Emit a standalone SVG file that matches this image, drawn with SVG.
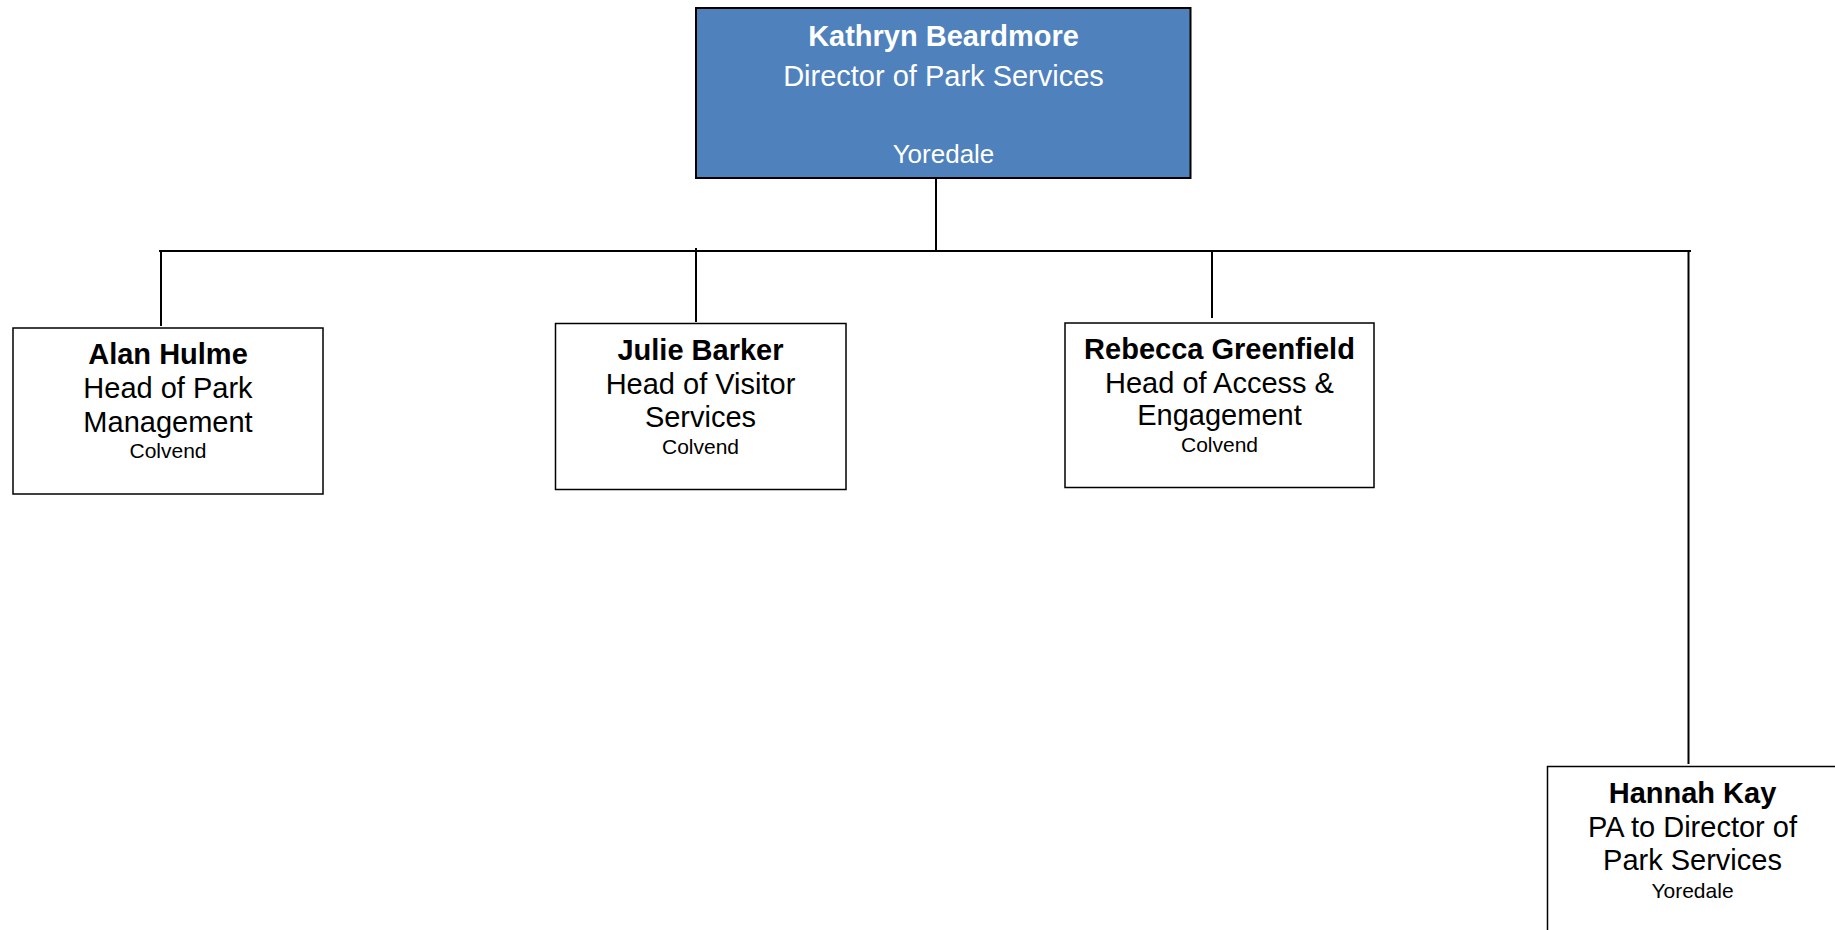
<svg xmlns="http://www.w3.org/2000/svg" width="1835" height="930" viewBox="0 0 1835 930">
<style>
.box{fill:#ffffff;stroke:#000;stroke-width:1.5}
.top{fill:#4F81BD;stroke:#000;stroke-width:2}
.ln{stroke:#000;stroke-width:2;fill:none}
text{font-family:"Liberation Sans",Arial,sans-serif;text-anchor:middle;fill:#000}
.nm{font-size:29px;font-weight:bold}
.tt{font-size:29px}
.lc{font-size:21px}
.w{fill:#fff}
</style>
<rect width="1835" height="930" fill="#fff"/>
<g id="connectors">
<line class="ln" x1="936" y1="178" x2="936" y2="251"/>
<line class="ln" x1="159" y1="251" x2="1691" y2="251"/>
<line class="ln" x1="161" y1="251" x2="161" y2="326"/>
<line class="ln" x1="696" y1="248" x2="696" y2="322"/>
<line class="ln" x1="1212" y1="251" x2="1212" y2="318"/>
<line class="ln" x1="1688.5" y1="251" x2="1688.5" y2="764"/>
</g>
<g id="kathryn">
<rect class="top" x="696" y="8" width="494.5" height="170"/>
<text class="nm w" x="943.5" y="46">Kathryn Beardmore</text>
<text class="tt w" x="943.5" y="86">Director of Park Services</text>
<text class="w" x="943.5" y="162.5" font-size="26">Yoredale</text>
</g>
<g id="alan">
<rect class="box" x="13" y="328" width="310" height="166"/>
<text class="nm" x="168" y="363.5">Alan Hulme</text>
<text class="tt" x="168" y="398">Head of Park</text>
<text class="tt" x="168" y="431.5">Management</text>
<text class="lc" x="168" y="457.5">Colvend</text>
</g>
<g id="julie">
<rect class="box" x="555.5" y="323.5" width="290.5" height="166"/>
<text class="nm" x="700.5" y="359.5">Julie Barker</text>
<text class="tt" x="700.5" y="393.5">Head of Visitor</text>
<text class="tt" x="700.5" y="426.5">Services</text>
<text class="lc" x="700.5" y="453.5">Colvend</text>
</g>
<g id="rebecca">
<rect class="box" x="1065" y="323" width="309" height="164.5"/>
<text class="nm" x="1219.5" y="358.5">Rebecca Greenfield</text>
<text class="tt" x="1219.5" y="392.5">Head of Access &amp;</text>
<text class="tt" x="1219.5" y="425">Engagement</text>
<text class="lc" x="1219.5" y="451.5">Colvend</text>
</g>
<g id="hannah">
<rect class="box" x="1547.5" y="766.5" width="300" height="200"/>
<text class="nm" x="1692.5" y="802.5">Hannah Kay</text>
<text class="tt" x="1692.5" y="836.5">PA to Director of</text>
<text class="tt" x="1692.5" y="869.5">Park Services</text>
<text class="lc" x="1692.5" y="897.5">Yoredale</text>
</g>
</svg>
